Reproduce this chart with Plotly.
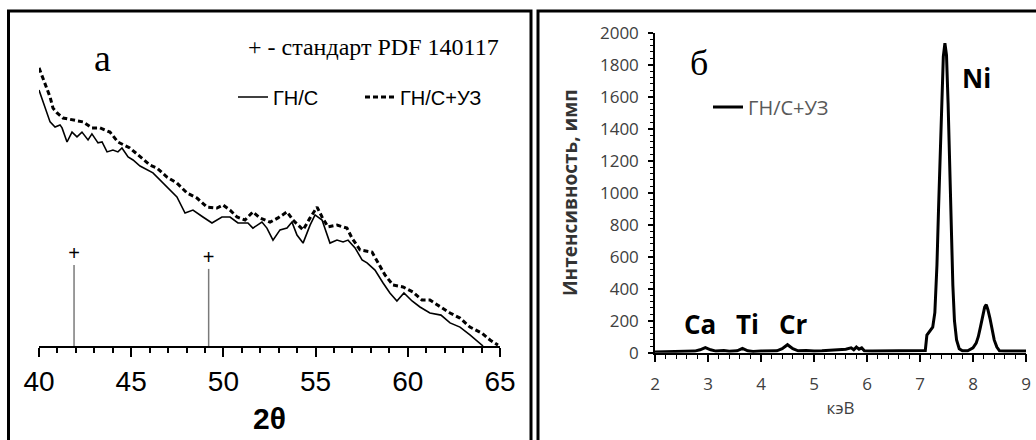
import plotly.graph_objects as go

W, H = 1036, 440

# ---------- Panel (а): XRD, 2θ vs intensity (arb. units) ----------
tt_gn = [40.00, 40.33, 40.60, 40.87, 41.14, 41.25, 41.52, 41.79, 42.06, 42.33, 42.66, 42.87,
         43.20, 43.42, 43.69, 44.01, 44.28, 44.50, 44.83, 45.10, 45.48, 46.18, 46.56, 46.94,
         47.48, 47.92, 48.35, 48.89, 49.38, 49.92, 50.36, 50.79, 51.33, 51.60, 52.09, 52.36,
         52.69, 53.07, 53.45, 53.72, 53.99, 54.32, 54.70, 54.97, 55.35, 55.78, 56.16, 56.49,
         56.76, 57.14, 57.52, 57.79, 58.22, 58.66, 59.03, 59.41, 59.79, 60.23, 60.66, 61.20,
         61.80, 62.29, 62.83, 63.37, 63.92, 64.08]
int_gn = [85.3, 79.7, 74.7, 73.0, 73.7, 72.7, 68.0, 71.3, 69.7, 71.3, 68.7, 70.7,
          67.7, 68.0, 64.7, 65.3, 64.7, 66.0, 63.0, 62.0, 60.0, 57.7, 55.3, 53.0,
          49.7, 44.3, 45.3, 43.0, 41.0, 43.0, 43.0, 41.0, 41.0, 39.3, 41.3, 39.3,
          35.3, 38.7, 39.3, 41.3, 37.0, 34.3, 40.3, 43.7, 42.0, 34.3, 35.3, 34.7,
          35.3, 32.7, 28.7, 27.7, 25.3, 21.0, 17.7, 15.0, 17.7, 15.0, 13.0, 11.0,
          10.3, 7.7, 6.3, 3.7, 1.0, 0.0]

tt_gn_us = [40.00, 40.33, 40.60, 40.76, 40.98, 41.30, 41.84, 42.39, 42.87, 43.31, 43.85, 44.28,
            44.93, 45.48, 46.02, 46.40, 46.94, 47.48, 48.03, 48.57, 49.11, 49.65, 49.98, 50.36,
            50.74, 51.17, 51.60, 51.98, 52.53, 52.96, 53.45, 53.77, 54.32, 54.70, 55.08, 55.35,
            55.67, 56.16, 56.70, 56.97, 57.41, 58.06, 58.38, 58.76, 59.20, 59.74, 60.28, 60.77,
            61.20, 61.75, 62.29, 62.83, 63.37, 64.02, 64.46, 64.89]
int_gn_us = [92.7, 87.7, 83.0, 79.3, 77.7, 76.0, 75.3, 74.7, 72.7, 72.7, 71.3, 68.0,
             66.0, 63.0, 60.3, 59.3, 56.3, 54.3, 51.0, 49.3, 46.3, 46.0, 47.0, 45.3,
             43.0, 42.0, 44.7, 42.7, 41.3, 42.7, 44.7, 42.0, 38.7, 42.7, 46.3, 43.0,
             39.7, 40.3, 39.3, 36.0, 32.0, 31.3, 27.7, 23.7, 20.3, 19.7, 18.0, 15.3,
             15.3, 13.0, 11.0, 9.3, 6.3, 4.3, 2.0, 0.3]

std_tt = [41.9, 49.2]          # standard PDF 140117 lines
std_h = [27.0, 25.7]

xa_ticks = [40, 45, 50, 55, 60, 65]

# ---------- Panel (б): EDX spectrum ----------
kev = [2.00, 2.20, 2.40, 2.60, 2.75, 2.85, 2.95, 3.05, 3.15, 3.30, 3.40, 3.55, 3.65, 3.75,
       3.85, 4.00, 4.15, 4.30, 4.40, 4.50, 4.60, 4.70, 4.85, 5.00, 5.15, 5.30, 5.45, 5.60,
       5.70, 5.75, 5.80, 5.85, 5.90, 5.95, 6.10, 6.40, 6.70, 7.00, 7.10, 7.13, 7.16, 7.20,
       7.24, 7.28, 7.32, 7.35, 7.38, 7.41, 7.44, 7.47, 7.50, 7.53, 7.56, 7.59, 7.62, 7.65,
       7.69, 7.74, 7.80, 7.90, 8.00, 8.06, 8.10, 8.14, 8.18, 8.22, 8.25, 8.28, 8.32, 8.36,
       8.40, 8.45, 8.50, 8.60, 8.80, 9.00]
counts = [5, 6, 7, 8, 10, 18, 32, 18, 10, 14, 9, 12, 27, 12,
          8, 10, 9, 12, 25, 50, 25, 12, 14, 10, 12, 14, 16, 22,
          30, 18, 35, 22, 30, 12, 10, 10, 10, 10, 14, 110, 125, 140,
          160, 250, 550, 900, 1250, 1560, 1850, 1935, 1860, 1560, 1150, 750, 420, 200,
          80, 25, 12, 12, 30, 60, 100, 160, 230, 285, 300, 270, 215, 150,
          80, 35, 12, 10, 10, 10]

elements = ["Ca", "Ti", "Cr", "Ni"]
elem_kev = [2.85, 3.74, 4.62, 8.06]
elem_cnt = [179, 179, 179, 1717]

fig = go.Figure()

# panel а traces
fig.add_trace(go.Scatter(x=tt_gn, y=int_gn, mode="lines", name="ГН/С",
                         line=dict(color="black", width=1.6),
                         xaxis="x", yaxis="y", legend="legend"))
fig.add_trace(go.Scatter(x=tt_gn_us, y=int_gn_us, mode="lines", name="ГН/С+УЗ",
                         line=dict(color="black", width=3, dash="5px,3px"),
                         xaxis="x", yaxis="y", legend="legend"))
stick_x, stick_y = [], []
for t, h in zip(std_tt, std_h):
    stick_x += [t, t, None]
    stick_y += [0, h, None]
fig.add_trace(go.Scatter(x=stick_x, y=stick_y, mode="lines", showlegend=False,
                         line=dict(color="#7a7a7a", width=1.5), xaxis="x", yaxis="y"))
fig.add_trace(go.Scatter(x=std_tt, y=std_h, mode="text", text=["+"] * len(std_tt),
                         textposition="top center", showlegend=False,
                         textfont=dict(family="Liberation Sans", size=20, color="black"),
                         xaxis="x", yaxis="y"))

# panel б trace
fig.add_trace(go.Scatter(x=kev, y=counts, mode="lines", name="ГН/С+УЗ",
                         line=dict(color="black", width=3),
                         xaxis="x2", yaxis="y2", legend="legend2"))

ann = []
for e, k, c in zip(elements, elem_kev, elem_cnt):
    ann.append(dict(x=k, y=c, xref="x2", yref="y2", text=e, showarrow=False,
                    xanchor="center", yanchor="middle",
                    font=dict(family="Open Sans", size=26, color="black", weight="bold")))
ann += [
    dict(x=102 / W, y=1 - 58 / H, xref="paper", yref="paper", text="a", showarrow=False,
         xanchor="center", yanchor="middle",
         font=dict(family="Liberation Serif", size=38, color="black")),
    dict(x=501 / W, y=1 - 47 / H, xref="paper", yref="paper", xanchor="right",
         yanchor="middle", text="+ - стандарт PDF 140117", showarrow=False,
         font=dict(family="Liberation Serif", size=24, color="black")),
    dict(x=699 / W, y=1 - 63 / H, xref="paper", yref="paper", text="б", showarrow=False,
         xanchor="center", yanchor="middle",
         font=dict(family="Liberation Serif", size=36, color="black")),
]

shapes = [
    dict(type="rect", xref="paper", yref="paper", x0=8.5 / W, x1=531 / W,
         y0=-0.1, y1=1 - 11 / H, line=dict(color="black", width=3)),
    dict(type="rect", xref="paper", yref="paper", x0=538 / W, x1=1.1,
         y0=-0.1, y1=1 - 11 / H, line=dict(color="black", width=3)),
]

fig.update_layout(
    width=W, height=H,
    margin=dict(l=0, r=0, t=0, b=0, autoexpand=False),
    paper_bgcolor="white", plot_bgcolor="rgba(0,0,0,0)",
    annotations=ann, shapes=shapes,
    xaxis=dict(domain=[39 / W, 500 / W], range=[40, 65], tickvals=xa_ticks,
               showgrid=False, zeroline=False, showline=True, linecolor="black", linewidth=1.5,
               ticks="outside", ticklen=9, tickwidth=1.5, tickcolor="black",
               minor=dict(dtick=1, ticks="outside", ticklen=5, tickwidth=1.5, tickcolor="black"),
               tickfont=dict(family="Liberation Sans", size=28, color="black"),
               ticklabelstandoff=1,
               title=dict(text="<b>2θ</b>", standoff=12,
                          font=dict(family="Liberation Sans", size=30, color="black"))),
    yaxis=dict(domain=[1 - 346 / H, 1 - 46 / H], range=[0, 100], visible=False),
    xaxis2=dict(domain=[655 / W, 1026 / W], range=[2, 9], dtick=1, anchor="y2",
                showgrid=False, zeroline=False, showline=True, linecolor="black", linewidth=1.5,
                ticks="outside", ticklen=8, tickwidth=1.5, tickcolor="black",
                minor=dict(dtick=0.2, ticks="outside", ticklen=5, tickwidth=1, tickcolor="black"),
                tickfont=dict(family="Open Sans", size=17, color="#404040"),
                ticklabelstandoff=7,
                title=dict(text="кэВ", standoff=8,
                           font=dict(family="Open Sans", size=17, color="#404040"))),
    yaxis2=dict(domain=[1 - 352.7 / H, 1 - 32.7 / H], range=[0, 2000], dtick=200, anchor="x2",
                showgrid=False, zeroline=False, showline=True, linecolor="black", linewidth=1.5,
                ticks="outside", ticklen=5, tickwidth=1.5, tickcolor="black",
                minor=dict(dtick=40, ticks="outside", ticklen=3, tickwidth=1, tickcolor="black"),
                tickfont=dict(family="Open Sans", size=17, color="#404040"),
                ticklabelstandoff=6,
                title=dict(text="<b>Интенсивность, имп</b>", standoff=17,
                           font=dict(family="Open Sans", size=19, color="#333333"))),
    legend=dict(x=233 / W, y=1 - 97 / H, xanchor="left", yanchor="middle",
                orientation="h", bgcolor="rgba(0,0,0,0)", entrywidth=82,
                font=dict(family="Liberation Sans", size=20, color="black")),
    legend2=dict(x=708 / W, y=1 - 107 / H, xanchor="left", yanchor="middle",
                 bgcolor="rgba(0,0,0,0)",
                 font=dict(family="Open Sans", size=20, color="#595959")),
)

fig.write_html("out.html", config={"displayModeBar": False},
               post_script="document.body.style.margin='0px';")
